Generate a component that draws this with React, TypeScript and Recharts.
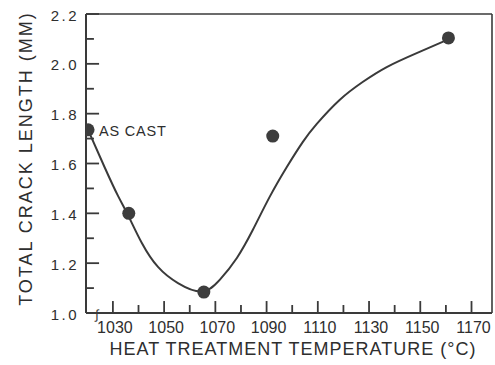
import React from "react";
import {
  ComposedChart,
  Line,
  Scatter,
  XAxis,
  YAxis,
  ReferenceLine,
  ReferenceDot,
} from "recharts";

// smooth fitted curve
const curveTemp = [1020.3, 1026.9, 1032, 1035.9, 1041.3, 1047.6, 1055.4, 1064.7, 1071.7, 1078.4, 1084.6, 1091.2, 1097.9, 1104.1, 1109.6, 1118.5, 1127.5, 1136.9, 1148.6, 1158.7, 1161];
const curveLen = [1.735, 1.582, 1.47, 1.393, 1.281, 1.185, 1.12, 1.086, 1.133, 1.221, 1.333, 1.466, 1.586, 1.686, 1.759, 1.855, 1.927, 1.987, 2.043, 2.088, 2.1];

// measured points
const pointTemp = [1020.3, 1036.2, 1065.5, 1092.4, 1161];
const pointLen = [1.735, 1.4, 1.084, 1.71, 2.104];

const xMajorTicks = [1030, 1050, 1070, 1090, 1110, 1130, 1150, 1170];
const xMinorTicks = [1040, 1060, 1080, 1100, 1120, 1140, 1160];
const yMajorTicks = [1.0, 1.2, 1.4, 1.6, 1.8, 2.0, 2.2];
const yMinorTicks = [1.1, 1.3, 1.5, 1.7, 1.9, 2.1];

const X_DOMAIN: [number, number] = [1019.5, 1178];
const Y_DOMAIN: [number, number] = [1.0, 2.2];

// tick mark lengths, in axis units (about 12/8 px and 13/8 px)
const X_TICK_MAJOR = 0.048;
const X_TICK_MINOR = 0.032;
const Y_TICK_MAJOR = 5.1;
const Y_TICK_MINOR = 3.1;

const curve = curveTemp.map((t, i) => ({ t, v: curveLen[i] }));
const points = pointTemp.map((t, i) => ({ t, v: pointLen[i] }));

const xTickMarks = [
  ...xMajorTicks.map((t) => ({ t, len: X_TICK_MAJOR })),
  ...xMinorTicks.map((t) => ({ t, len: X_TICK_MINOR })),
];
const yTickMarks = [
  ...yMajorTicks.map((v) => ({ v, len: Y_TICK_MAJOR })),
  ...yMinorTicks.map((v) => ({ v, len: Y_TICK_MINOR })),
];

const INK = "#3a3a3a";
const TEXT = "#2e2e2e";
const FONT = "'Liberation Sans', Arial, sans-serif";

const XTick = (props: any) => (
  <text x={Number(props.x) + 2} y={Number(props.y) + 20} textAnchor="middle" fontSize={16} fill={TEXT} fontFamily={FONT}>
    {props.payload.value}
  </text>
);

const YTick = (props: any) => (
  <text
    x={Number(props.x) - 7}
    y={Number(props.y) + 1}
    textAnchor="end"
    dominantBaseline="central"
    fontSize={15}
    letterSpacing={2.5}
    fill={TEXT}
    fontFamily={FONT}
  >
    {Number(props.payload.value).toFixed(1)}
  </text>
);

const Dot = (props: any) => <circle cx={props.cx} cy={props.cy} r={6.5} fill="#3d3d3d" />;

export default function App() {
  return (
    <div style={{ position: "absolute", left: 0, top: 0, background: "#fff" }}>
      <ComposedChart
        width={495}
        height={365}
        margin={{ top: 14, right: 3, left: 0, bottom: 0 }}
        style={{ overflow: "visible" }}
      >
        <XAxis
          dataKey="t"
          type="number"
          domain={X_DOMAIN}
          allowDataOverflow
          ticks={xMajorTicks}
          interval={0}
          height={52}
          tickSize={0}
          tickMargin={0}
          tickLine={false}
          axisLine={{ stroke: INK, strokeWidth: 2 }}
          tick={<XTick />}
          label={{
            content: (p: any) => {
              const vb = p.viewBox;
              return (
                <text
                  x={vb.x + vb.width / 2 + 4}
                  y={vb.y + 42}
                  textAnchor="middle"
                  fontSize={18}
                  letterSpacing={1}
                  fill={TEXT}
                  fontFamily={FONT}
                >
                  HEAT TREATMENT TEMPERATURE (°C)
                </text>
              );
            },
          }}
        />
        <YAxis
          dataKey="v"
          type="number"
          domain={Y_DOMAIN}
          allowDataOverflow
          ticks={yMajorTicks}
          interval={0}
          width={86}
          tickSize={0}
          tickMargin={0}
          tickLine={false}
          axisLine={{ stroke: INK, strokeWidth: 2 }}
          tick={<YTick />}
          label={{
            content: (p: any) => {
              const vb = p.viewBox;
              const cx = 26;
              const cy = vb.y + vb.height / 2 - 5;
              return (
                <text
                  x={cx}
                  y={cy}
                  transform={`rotate(-90 ${cx} ${cy})`}
                  textAnchor="middle"
                  dominantBaseline="central"
                  fontSize={18}
                  letterSpacing={2}
                  fill={TEXT}
                  fontFamily={FONT}
                >
                  TOTAL CRACK LENGTH (MM)
                </text>
              );
            },
          }}
        />
        <ReferenceLine y={Y_DOMAIN[1]} stroke={INK} strokeWidth={1.6} ifOverflow="extendDomain" />
        <ReferenceLine x={X_DOMAIN[1]} stroke={INK} strokeWidth={1.6} ifOverflow="extendDomain" />

        {xTickMarks.map((m) => (
          <ReferenceLine
            key={`xt${m.t}`}
            segment={[
              { x: m.t, y: Y_DOMAIN[0] },
              { x: m.t, y: Y_DOMAIN[0] + m.len },
            ]}
            stroke={INK}
            strokeWidth={1.8}
            ifOverflow="visible"
          />
        ))}
        {yTickMarks.map((m) => (
          <ReferenceLine
            key={`yt${m.v}`}
            segment={[
              { x: X_DOMAIN[0], y: m.v },
              { x: X_DOMAIN[0] + m.len, y: m.v },
            ]}
            stroke={INK}
            strokeWidth={1.8}
            ifOverflow="visible"
          />
        ))}

        <ReferenceDot
          x={1023.8}
          y={1.0}
          r={0}
          ifOverflow="visible"
          shape={(p: any) => (
            <text
              x={Number(p.cx)}
              y={Number(p.cy) + 1}
              textAnchor="middle"
              dominantBaseline="central"
              fontSize={13}
              fill={INK}
              fontFamily={FONT}
            >
              ∫
            </text>
          )}
        />
        <Line
          data={curve}
          dataKey="v"
          type="natural"
          stroke={INK}
          strokeWidth={2}
          dot={false}
          activeDot={false}
          isAnimationActive={false}
        />
        <Scatter data={points} dataKey="v" shape={<Dot />} isAnimationActive={false} />
        <ReferenceDot
          x={pointTemp[0]}
          y={pointLen[0]}
          r={0}
          ifOverflow="visible"
          shape={(p: any) => (
            <text
              x={Number(p.cx) + 11}
              y={Number(p.cy) + 1}
              dominantBaseline="central"
              fontSize={14.5}
              letterSpacing={0.8}
              fill={TEXT}
              fontFamily={FONT}
            >
              AS CAST
            </text>
          )}
        />
      </ComposedChart>
    </div>
  );
}
